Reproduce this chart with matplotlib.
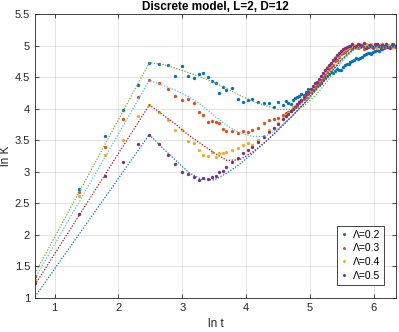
import numpy as np
import matplotlib
matplotlib.use("Agg")
import matplotlib.pyplot as plt

plt.rcParams["font.family"] = ["Liberation Sans", "DejaVu Sans"]

# simulation times (subset of even t)
t_sim = [2, 4, 6, 8, 10, 12, 14, 16, 18, 20, 22, 24, 26, 28, 30, 32, 34, 36, 38, 40,
         44, 48, 52, 56, 60, 66, 72, 78, 84, 90, 98, 106, 114, 122, 130, 140, 150,
         160, 170, 182, 194, 206, 220, 234, 248, 264, 280, 298, 316, 336, 356, 378,
         400, 424, 450, 476, 504, 534, 566]

lnK_02 = [1.35, 2.73, 3.57, 3.98, 4.38, 4.73, 4.70, 4.69, 4.51, 4.68, 4.52, 4.48, 4.55, 4.57,
          4.50, 4.44, 4.40, 4.25, 4.35, 4.30, 4.32, 4.16, 4.11, 4.14, 4.16, 4.10, 4.09, 4.09,
          4.03, 4.10, 4.06, 4.09, 4.14, 4.19, 4.24, 4.27, 4.30, 4.33, 4.38, 4.45, 4.52, 4.58,
          4.59, 4.62, 4.66, 4.70, 4.74, 4.77, 4.79, 4.82, 4.86, 4.88, 4.90, 4.93, 4.94, 4.96,
          4.97, 4.98, 4.99]
lnK_03 = [1.35, 2.68, 3.40, 3.83, 4.19, 4.45, 4.41, 4.31, 4.20, 4.14, 4.16, 4.09, 3.95, 3.90,
          3.79, 3.80, 3.79, 3.78, 3.68, 3.64, 3.65, 3.62, 3.64, 3.63, 3.66, 3.69, 3.77, 3.82,
          3.84, 3.86, 3.90, 3.94, 4.00, 4.05, 4.12, 4.19, 4.27, 4.35, 4.41, 4.50, 4.58, 4.66,
          4.75, 4.82, 4.88, 4.93, 4.97, 4.99, 4.96, 5.01, 4.98, 5.00, 4.96, 5.02, 4.98, 5.00,
          4.97, 5.02, 4.98]
lnK_04 = [1.29, 2.61, 3.27, 3.50, 3.89, 4.06, 3.94, 3.82, 3.67, 3.66, 3.49, 3.45, 3.35, 3.27,
          3.25, 3.32, 3.23, 3.29, 3.30, 3.32, 3.35, 3.38, 3.42, 3.45, 3.43, 3.50, 3.57, 3.66,
          3.70, 3.78, 3.86, 3.93, 4.02, 4.08, 4.13, 4.24, 4.30, 4.41, 4.46, 4.57, 4.66, 4.71,
          4.82, 4.87, 4.93, 4.96, 4.99, 5.01, 4.97, 5.00, 5.03, 4.98, 5.00, 4.96, 5.02, 4.99,
          5.01, 4.97, 5.00]
lnK_05 = [1.23, 2.33, 2.93, 3.16, 3.44, 3.59, 3.44, 3.27, 3.13, 3.00, 2.97, 2.92, 2.87, 2.90,
          2.89, 2.92, 2.94, 3.00, 3.01, 3.08, 3.15, 3.22, 3.30, 3.35, 3.40, 3.47, 3.55, 3.63,
          3.69, 3.75, 3.84, 3.92, 4.00, 4.07, 4.14, 4.23, 4.31, 4.40, 4.47, 4.56, 4.65, 4.73,
          4.81, 4.88, 4.94, 4.98, 5.00, 4.97, 5.02, 4.99, 4.96, 5.01, 4.98, 5.03, 4.97, 5.00,
          4.98, 5.01, 4.99]

# extra late-time points (dense band)
t_late = [102, 110, 118, 126, 135, 145, 155, 165, 176, 188, 200, 213, 227, 241, 256, 272,
          289, 307, 326, 346, 367, 389, 412, 437, 463, 490, 519, 550]
late_02 = [4.12, 4.08, 4.17, 4.20, 4.22, 4.31, 4.29, 4.37, 4.40, 4.48, 4.55, 4.57, 4.63, 4.61,
           4.69, 4.71, 4.76, 4.80, 4.81, 4.85, 4.89, 4.87, 4.92, 4.91, 4.95, 4.97, 4.96, 4.98]
late_03 = [3.93, 3.96, 4.03, 4.09, 4.15, 4.23, 4.32, 4.37, 4.46, 4.53, 4.63, 4.69, 4.77, 4.86,
           4.90, 4.96, 4.95, 5.00, 4.98, 4.95, 5.01, 4.99, 4.97, 5.00, 5.02, 4.97, 5.00, 5.01]
late_04 = [3.90, 3.98, 4.04, 4.12, 4.19, 4.27, 4.35, 4.43, 4.52, 4.60, 4.68, 4.76, 4.84, 4.90,
           4.94, 4.98, 5.00, 4.96, 5.02, 4.99, 4.97, 5.02, 4.98, 5.01, 4.97, 5.02, 4.99, 4.98]
late_05 = [3.88, 3.97, 4.03, 4.11, 4.19, 4.27, 4.36, 4.43, 4.52, 4.61, 4.69, 4.77, 4.85, 4.91,
           4.96, 4.99, 5.02, 4.99, 5.01, 5.04, 4.98, 5.00, 5.03, 4.99, 5.01, 5.03, 4.98, 5.02]

# model curves (ln t knots)
lnt_th = [0.693, 2.485, 2.7, 2.9, 3.1, 3.3, 3.5, 3.7, 3.9, 4.1, 4.3, 4.5, 4.7, 4.9, 5.1,
          5.3, 5.5, 5.7, 5.9, 6.1, 6.35]
th_02 = [1.39, 4.73, 4.70, 4.64, 4.57, 4.50, 4.41, 4.32, 4.21, 4.12, 4.05, 3.99, 3.99, 4.04,
         4.22, 4.47, 4.74, 4.95, 4.98, 4.98, 4.98]
th_03 = [1.31, 4.45, 4.37, 4.29, 4.19, 4.06, 3.89, 3.73, 3.62, 3.56, 3.56, 3.68, 3.86, 4.07,
         4.30, 4.54, 4.78, 4.96, 4.98, 4.98, 4.98]
th_04 = [1.21, 4.06, 3.90, 3.75, 3.58, 3.44, 3.30, 3.18, 3.19, 3.31, 3.47, 3.66, 3.86, 4.07,
         4.30, 4.54, 4.78, 4.96, 4.98, 4.98, 4.98]
th_05 = [1.02, 3.59, 3.37, 3.18, 2.99, 2.88, 2.87, 2.98, 3.12, 3.29, 3.47, 3.66, 3.86, 4.07,
         4.30, 4.54, 4.78, 4.96, 4.98, 4.98, 4.98]

labels = ["\u039b=0.2", "\u039b=0.3", "\u039b=0.4", "\u039b=0.5"]
sim_colors = [(0, 0.447, 0.741), (0.85, 0.325, 0.098), (0.929, 0.694, 0.125), (0.494, 0.184, 0.556)]
th_colors = [(0.466, 0.674, 0.188), (0.301, 0.745, 0.933), (0.635, 0.078, 0.184), (0, 0.447, 0.741)]
dark = (0.15, 0.15, 0.15)

fig = plt.figure(figsize=(3.99, 3.32), dpi=100)
ax = fig.add_axes([0.0877, 0.1024, 0.9048, 0.8554])

lnt = np.log(t_sim + t_late)
sims = [lnK_02 + late_02, lnK_03 + late_03, lnK_04 + late_04, lnK_05 + late_05]
for y, c, lab in zip(sims, sim_colors, labels):
    ax.plot(lnt, y, "o", ms=2.4, mew=0, color=c, label=lab)
for y, c in zip([th_02, th_03, th_04, th_05], th_colors):
    ax.plot(lnt_th, y, linestyle=(0, (1, 1.3)), lw=0.9, color=c)

ax.set_xlim(0.693, 6.35)
ax.set_ylim(1, 5.5)
ax.set_xticks([1, 2, 3, 4, 5, 6])
ax.set_yticks([1, 1.5, 2, 2.5, 3, 3.5, 4, 4.5, 5, 5.5])
ax.set_yticklabels(["1", "1.5", "2", "2.5", "3", "3.5", "4", "4.5", "5", "5.5"])
ax.tick_params(direction="in", length=3, width=0.6, labelsize=8, colors=dark,
               top=True, right=True)
ax.grid(True, color=dark, alpha=0.15, lw=0.6)
for s in ax.spines.values():
    s.set_color(dark)
    s.set_linewidth(0.6)

ax.set_title("Discrete model, L=2, D=12", fontsize=8.5, fontweight="bold", pad=3)
ax.set_xlabel("ln t", fontsize=8.5, color=dark, labelpad=4)
ax.set_ylabel("ln K", fontsize=8.5, color=dark, labelpad=2)

leg = ax.legend(loc="lower right", bbox_to_anchor=(0.982, 0.028), fontsize=7.5,
                frameon=True, fancybox=False, handlelength=0.6, handletextpad=0.5,
                borderpad=0.4, labelspacing=0.35, markerscale=0.9)
leg.get_frame().set_edgecolor(dark)
leg.get_frame().set_linewidth(0.6)
leg.get_frame().set_alpha(1)

plt.savefig("out.png", dpi=100)
plt.close()
